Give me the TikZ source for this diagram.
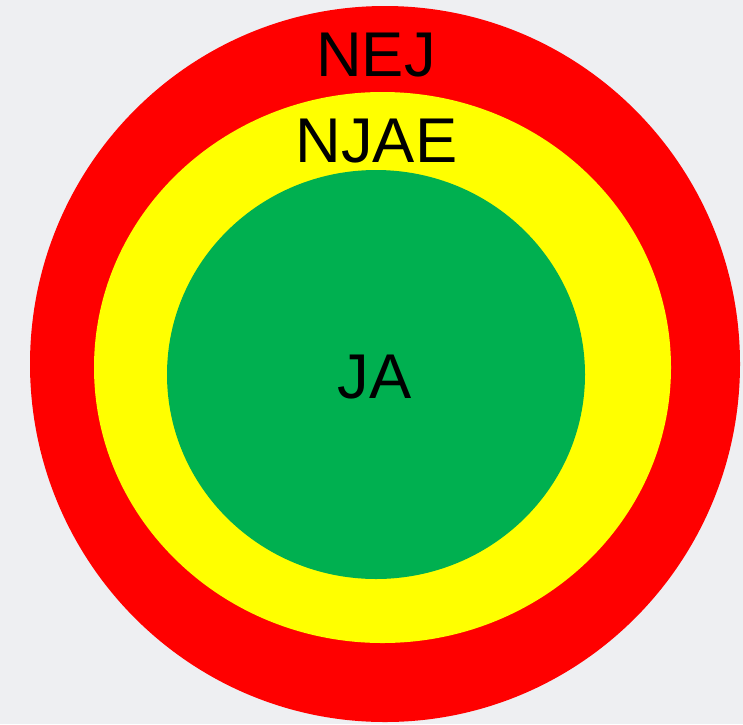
\documentclass[tikz,border=0pt]{standalone}
\usepackage{fontspec}
\setmainfont{Liberation Sans}
\usepackage{tikz}
\usetikzlibrary{positioning}

\definecolor{bgray}{RGB}{238,239,242}
\definecolor{ringred}{RGB}{255,0,0}
\definecolor{ringyellow}{RGB}{255,255,0}
\definecolor{ringgreen}{RGB}{0,176,80}

\begin{document}
\begin{tikzpicture}[x=0.02cm, y=-0.02cm,
  ring/.style={draw=none},
  label/.style={inner sep=0pt, anchor=base, text=black, font=\fontsize{36}{40}\selectfont}]

  % background
  \fill [bgray] (0,0) rectangle (743,724);
  \useasboundingbox (0,0) rectangle (743,724);

  % rings
  \fill [ring, ringred] (385,364) ellipse [x radius=355, y radius=358];
  \fill [ring, ringyellow] (382.5,367.5) ellipse [x radius=288.5, y radius=275.5];
  \fill [ring, ringgreen] (376,374.5) ellipse [x radius=209, y radius=204.5];

  % labels
  \node [label] (nej) at (376,76) {NEJ};
  \node [label] (njae) at (376.5,162) {NJAE};
  \node [label] (ja) at (374.5,398) {JA};
\end{tikzpicture}
\end{document}
